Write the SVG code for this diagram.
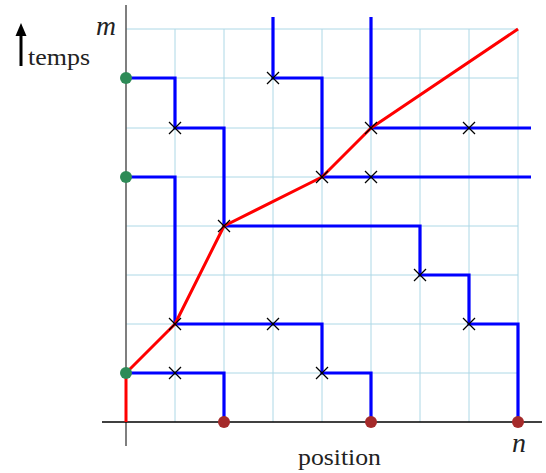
<svg xmlns="http://www.w3.org/2000/svg" width="546" height="473" viewBox="0 0 546 473">
<defs>
<style>
.grid{stroke:#add8e6;stroke-width:1;fill:none}
.blue{stroke:#0000ff;stroke-width:3.2;fill:none;stroke-linejoin:miter}
.red{stroke:#ff0000;stroke-width:3;fill:none;stroke-linejoin:round}
.x{stroke:#000;stroke-width:1.2}
.lbl{font-family:"Liberation Serif","Times New Roman",serif;fill:#222}
.start{fill:#2e8b57}
.end{fill:#a52a2a}
</style>
<g id="cross"><line class="x" x1="-6" y1="-6" x2="6" y2="6"/><line class="x" x1="-6" y1="6" x2="6" y2="-6"/></g>
</defs>
<rect width="546" height="473" fill="#fff"/>
<g id="grid">
<path class="grid" d="M175 29V422M224 29V422M273 29V422M322 29V422M371 29V422M420 29V422M469 29V422M518 29V422"/>
<path class="grid" d="M126 29H518M126 78H518M126 128H518M126 177H518M126 226H518M126 275H518M126 324H518M126 373H518"/>
</g>
<g id="axes">
<line x1="126" y1="5" x2="126" y2="446" stroke="#555" stroke-width="1.5"/>
<line x1="102" y1="422" x2="542" y2="422" stroke="#000" stroke-width="1.5"/>
</g>
<g id="connectors">
<path class="blue" d="M126 373H224V422"/>
<path class="blue" d="M126 177H175V324H322V373H371V422"/>
<path class="blue" d="M126 78H175V128H224V226H420V275H469V324H518V422"/>
<path class="blue" d="M273 17V78H322V177H531"/>
<path class="blue" d="M371 17V128H531"/>
<path class="red" d="M126 422V373L175 324L224 226L322 177L371 128L518 29"/>
</g>
<g id="crosses">
<use href="#cross" x="175" y="373"/>
<use href="#cross" x="175" y="324"/>
<use href="#cross" x="273" y="324"/>
<use href="#cross" x="322" y="373"/>
<use href="#cross" x="175" y="128"/>
<use href="#cross" x="224" y="226"/>
<use href="#cross" x="420" y="275"/>
<use href="#cross" x="469" y="324"/>
<use href="#cross" x="273" y="78"/>
<use href="#cross" x="322" y="177"/>
<use href="#cross" x="371" y="177"/>
<use href="#cross" x="371" y="128"/>
<use href="#cross" x="469" y="128"/>
</g>
<g id="sources">
<circle class="start" cx="126" cy="78" r="6"/>
<circle class="start" cx="126" cy="177" r="6"/>
<circle class="start" cx="126" cy="373" r="6"/>
</g>
<g id="sinks">
<circle class="end" cx="224" cy="422" r="6"/>
<circle class="end" cx="371" cy="422" r="6"/>
<circle class="end" cx="518" cy="422" r="6"/>
</g>
<g id="labels">
<text class="lbl" x="106" y="35" font-size="27" font-style="italic" text-anchor="middle" textLength="20" lengthAdjust="spacingAndGlyphs">m</text>
<text class="lbl" x="519" y="452" font-size="27" font-style="italic" text-anchor="middle" textLength="14" lengthAdjust="spacingAndGlyphs">n</text>
<text class="lbl" x="298" y="465" font-size="23" textLength="83" lengthAdjust="spacingAndGlyphs">position</text>
<text class="lbl" x="28" y="65" font-size="23" textLength="62" lengthAdjust="spacingAndGlyphs">temps</text>
</g>
<g id="time-arrow">
<line x1="21" y1="66" x2="21" y2="33" stroke="#000" stroke-width="3"/>
<path d="M21 23L15.5 36H26.5Z" fill="#000"/>
</g>
</svg>
